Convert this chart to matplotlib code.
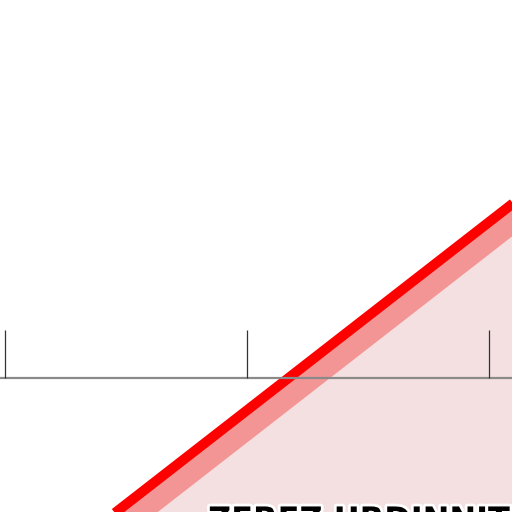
import numpy as np
import matplotlib
matplotlib.use("Agg")
import matplotlib.pyplot as plt
import matplotlib.patheffects as pe

# data
tick_pos = [0, 1, 2]
trend_x = [0.4, 2.2]
trend_y = [-0.600, 0.800]
band_depth = 0.13
label_text = "ZEREZ URDINNITE"

fig = plt.figure(figsize=(5.12, 5.12), dpi=100)
ax = fig.add_axes([0, 0, 1, 1])
ax.set_xlim(-0.0207, 2.095)
ax.set_ylim(-0.5537, 1.562)
ax.axis("off")

tx = np.array(trend_x)
ty = np.array(trend_y)

# light area under the trend
ax.fill_between(tx, -5, ty, color="#f4e0e1", lw=0, zorder=1)
# pink band just under the line
ax.fill_between(tx, ty - band_depth, ty, color="#f49595", lw=0, zorder=2)
ax.plot(tx, ty, color="#ff0000", lw=7.2, solid_capstyle="butt", zorder=3)

# baseline + ticks
ax.axhline(0, color="#8a8a8a", lw=1.6, zorder=4)
ax.vlines(tick_pos, 0, 0.198, color="#333333", lw=0.9, zorder=4)

ax.text(0.839, -0.627, label_text, fontsize=23, fontweight="bold",
        color="black", ha="left", va="baseline", zorder=5,
        path_effects=[pe.withStroke(linewidth=4, foreground="white")])

fig.savefig("out.png", dpi=100)
